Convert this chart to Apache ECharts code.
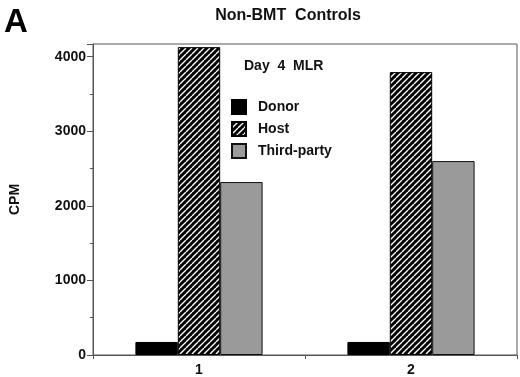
<!DOCTYPE html>
<html>
<head>
<meta charset="utf-8">
<script src="https://cdn.jsdelivr.net/npm/echarts@6/dist/echarts.min.js"></script>
<style>
  html, body { margin: 0; padding: 0; background: #fff; }
  #chart { width: 520px; height: 377px; }
</style>
</head>
<body>
<div id="chart"></div>
<script>
var categories = ['1', '2'];
var donor = [175, 175];
var host = [4128, 3793];
var thirdParty = [2319, 2600];
var seriesNames = ['Donor', 'Host', 'Third-party'];

// diagonal hatch for the Host bars
function hatch() {
    var c = document.createElement('canvas');
    c.width = 6; c.height = 6;
    var ctx = c.getContext('2d');
    ctx.fillStyle = '#000';
    ctx.fillRect(0, 0, 6, 6);
    ctx.strokeStyle = '#fff';
    ctx.lineWidth = 1.4;
    ctx.beginPath();
    for (var k = -6; k <= 12; k += 6) {
        ctx.moveTo(k, 6);
        ctx.lineTo(k + 6, 0);
    }
    ctx.stroke();
    return c;
}
var hatchColor = { image: hatch(), repeat: 'repeat' };

var font = 'Liberation Sans, Arial, sans-serif';
var myChart = echarts.init(document.getElementById('chart'));
myChart.setOption({
    animation: false,
    title: [
        { text: 'A', left: -1, top: 1, textStyle: { fontSize: 33, fontWeight: 'bold', fontFamily: font, color: '#000' } },
        { text: 'Non-BMT  Controls', left: 283, top: 3, textAlign: 'center',
          textStyle: { fontSize: 16, fontWeight: 'bold', fontFamily: font, color: '#111' } },
        { text: 'Day  4  MLR', left: 239, top: 54,
          textStyle: { fontSize: 14, fontWeight: 'bold', fontFamily: font, color: '#111' } }
    ],
    legend: {
        data: seriesNames,
        orient: 'vertical',
        left: 226, top: 94,
        itemWidth: 14, itemHeight: 14, itemGap: 6,
        icon: 'rect',
        textStyle: { fontSize: 14, fontWeight: 'bold', fontFamily: font, color: '#111', padding: [0, 0, 0, 7] }
    },
    grid: { left: 87, right: 3, top: 44, bottom: 22, show: true, borderColor: '#555', borderWidth: 1 },
    xAxis: {
        type: 'category',
        data: categories,
        axisLine: { lineStyle: { color: '#555' } },
        axisTick: { show: true, length: 4, lineStyle: { color: '#555' } },
        axisLabel: { fontSize: 14, fontWeight: 'bold', fontFamily: font, color: '#111', margin: 8 }
    },
    yAxis: {
        type: 'value',
        min: 0, max: 4170, interval: 1000,
        name: 'CPM', nameLocation: 'middle', nameRotate: 90, nameGap: 71,
        nameTextStyle: { fontSize: 14, fontWeight: 'bold', fontFamily: font, color: '#111' },
        axisLine: { show: true, lineStyle: { color: '#555' } },
        axisTick: { show: true, length: 6, lineStyle: { color: '#555' } },
        minorTick: { show: true, splitNumber: 2, length: 3, lineStyle: { color: '#555' } },
        splitLine: { show: false },
        axisLabel: { showMaxLabel: false, formatter: function (v) { return String(v); },
                     fontSize: 14, fontWeight: 'bold', fontFamily: font, color: '#111', margin: 7 }
    },
    series: [
        { name: 'Donor', type: 'bar', data: donor, barGap: '0%', barCategoryGap: '40%',
          itemStyle: { color: '#000', borderColor: '#000', borderWidth: 1 } },
        { name: 'Host', type: 'bar', data: host,
          itemStyle: { color: hatchColor, borderColor: '#000', borderWidth: 1 } },
        { name: 'Third-party', type: 'bar', data: thirdParty,
          itemStyle: { color: '#9a9a9a', borderColor: '#111', borderWidth: 1 } }
    ]
});
</script>
</body>
</html>
